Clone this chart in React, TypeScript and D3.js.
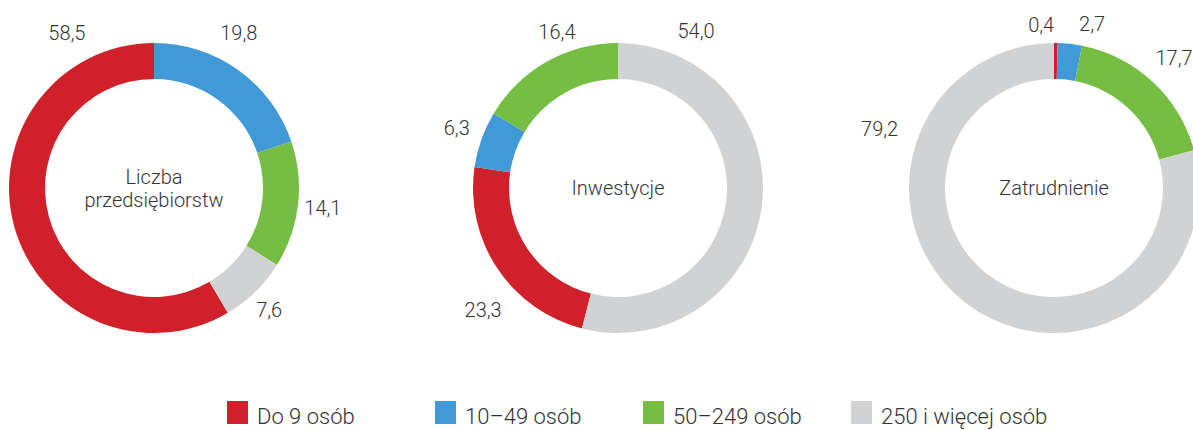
import React, { useRef, useEffect } from 'react'
import * as d3 from 'd3'

// size classes (legend + slice order)
const categories = ['Do 9 osób', '10–49 osób', '50–249 osób', '250 i więcej osób']
const colors = ['#d0202a', '#419ad6', '#76be43', '#d1d2d4']

// panel titles
const titles = [['Liczba', 'przedsiębiorstw'], ['Inwestycje'], ['Zatrudnienie']]

// shares in % per size class
const firmsShare = [58.5, 19.8, 14.1, 7.6]
const investShare = [23.3, 6.3, 16.4, 54.0]
const jobsShare = [0.4, 2.7, 17.7, 79.2]

const panels = [firmsShare, investShare, jobsShare]

// layout: which slice sits at 12 o'clock, and label nudges [deg, px]
const topSlice = [1, 3, 0]
const labelNudge = [
  [[76, 4], [-7, 3], [0, -4], [1, -6]],
  [[-8.5, 8], [0.7, -2], [8.2, -6], [-70.7, 1]],
  [[-5.2, -10], [6.8, -6], [-0.3, 3], [71.2, 10]],
]

const W = 1193
const H = 430
const FONT = 'Roboto, "Noto Sans", sans-serif'

const App = () => {
  const svgRef = useRef<SVGSVGElement>(null)

  useEffect(() => {
    const svg = d3.select(svgRef.current)
    svg.selectAll('*').remove()

    const cxScale = d3.scalePoint<number>().domain([0, 1, 2]).range([154, 1054]) // centres
    const cy = 188
    const outerR = 145
    const innerR = 109
    const labelR = 174
    const arc = d3.arc<d3.PieArcDatum<number>>().innerRadius(innerR).outerRadius(outerR)
    const fmt = (v: number) => d3.format('.1f')(v).replace('.', ',')

    panels.forEach((values, p) => {
      const total = d3.sum(values)
      const before = d3.sum(values.slice(0, topSlice[p]))
      const start = (-before / total) * 2 * Math.PI
      const pie = d3.pie<number>().sort(null).value(d => d).startAngle(start).endAngle(start + 2 * Math.PI)
      const arcs = pie(values)
      const cx = p === 1 ? 618 : cxScale(p)!
      const g = svg.append('g').attr('transform', `translate(${cx},${cy})`)

      g.selectAll('path.slice')
        .data(arcs)
        .enter()
        .append('path')
        .attr('class', 'slice')
        .attr('d', arc)
        .attr('fill', (d, i) => colors[i])

      g.selectAll('text.label')
        .data(arcs)
        .enter()
        .append('text')
        .attr('class', 'label')
        .attr('x', (d, i) => {
          const a = (d.startAngle + d.endAngle) / 2 + (labelNudge[p][i][0] * Math.PI) / 180
          return Math.sin(a) * (labelR + labelNudge[p][i][1])
        })
        .attr('y', (d, i) => {
          const a = (d.startAngle + d.endAngle) / 2 + (labelNudge[p][i][0] * Math.PI) / 180
          return -Math.cos(a) * (labelR + labelNudge[p][i][1])
        })
        .attr('text-anchor', 'middle')
        .attr('dominant-baseline', 'central')
        .attr('font-family', FONT)
        .attr('font-weight', 300)
        .attr('font-size', 20)
        .attr('fill', '#333')
        .text(d => fmt(d.data))

      const lines = titles[p]
      g.append('text')
        .attr('text-anchor', 'middle')
        .attr('font-family', FONT)
        .attr('font-weight', 300)
        .attr('font-size', 20)
        .attr('fill', '#333')
        .selectAll('tspan')
        .data(lines)
        .enter()
        .append('tspan')
        .attr('x', 0)
        .attr('y', (d, i) => 7 + (i - (lines.length - 1) / 2) * 23)
        .text(d => d)
    })

    // legend
    const lx = d3.scaleBand().domain(categories).range([227, 227 + 4 * 208])
    const leg = svg.append('g')
    const item = leg.selectAll('g').data(categories).enter().append('g')
      .attr('transform', d => `translate(${lx(d)},401)`)
    item.append('rect')
      .attr('width', 21)
      .attr('height', 23)
      .attr('fill', (d, i) => colors[i])
    item.append('text')
      .attr('x', 30)
      .attr('y', 23)
      .attr('font-family', FONT)
      .attr('font-weight', 300)
      .attr('font-size', 22)
      .attr('fill', '#333')
      .text(d => d)
  }, [])

  return (
    <div style={{ position: 'absolute', left: 0, top: 0 }}>
      <svg ref={svgRef} width={W} height={H} style={{ display: 'block', background: '#fff' }} />
    </div>
  )
}

export default App
